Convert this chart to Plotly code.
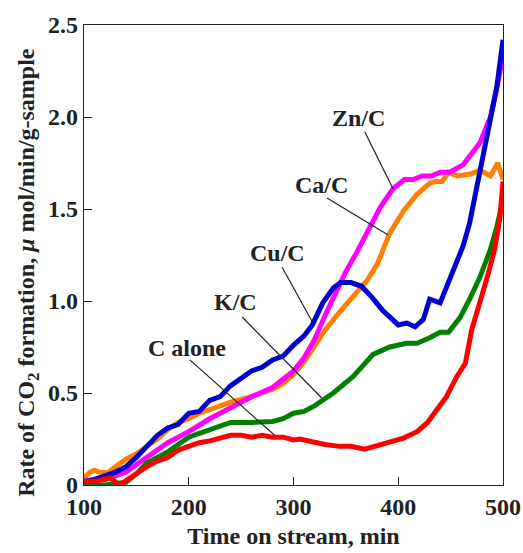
import plotly.graph_objects as go

# Cu/C (blue)
cu_t = [100,110,120,130,140,150,160,170,180,190,200,210,220,230,240,250,260,270,280,290,300,310,318,328,338,345,355,365,375,385,395,400,408,416,424,430,440,448,455,462,468,475,485,494,500]
cu_v = [0.02,0.03,0.05,0.07,0.10,0.15,0.21,0.27,0.31,0.33,0.39,0.40,0.46,0.48,0.54,0.58,0.62,0.64,0.68,0.70,0.76,0.81,0.87,0.99,1.07,1.10,1.10,1.08,1.02,0.95,0.90,0.87,0.88,0.86,0.90,1.01,0.99,1.10,1.21,1.30,1.42,1.62,1.88,2.16,2.42]

# Zn/C (magenta)
zn_t = [100,120,140,160,180,200,220,240,260,280,300,310,320,330,340,350,360,370,383,395,406,414,423,432,440,449,462,478,488,495,500]
zn_v = [0.016,0.03,0.07,0.15,0.23,0.29,0.36,0.42,0.48,0.53,0.62,0.69,0.79,0.92,1.04,1.16,1.26,1.37,1.51,1.61,1.66,1.66,1.68,1.68,1.70,1.70,1.74,1.86,2.00,2.18,2.34]

# Ca/C (orange)
ca_t = [100,106,110,115,122,130,140,150,160,170,180,190,200,210,220,240,260,280,290,300,310,320,330,344,360,370,380,392,405,418,430,436,442,448,456,469,478,488,495,500]
ca_v = [0.04,0.07,0.08,0.07,0.065,0.10,0.14,0.17,0.21,0.25,0.30,0.34,0.36,0.39,0.41,0.45,0.48,0.52,0.55,0.60,0.67,0.75,0.84,0.94,1.04,1.11,1.20,1.37,1.49,1.58,1.64,1.65,1.65,1.70,1.68,1.69,1.71,1.68,1.75,1.66]

# K/C (green)
k_t = [100,120,140,150,160,170,180,190,200,210,220,230,240,260,280,290,300,310,320,338,357,376,392,408,418,430,440,448,459,469,478,488,494,500]
k_v = [0.0,0.0,0.015,0.06,0.12,0.15,0.18,0.22,0.26,0.28,0.30,0.32,0.34,0.34,0.345,0.36,0.39,0.40,0.43,0.50,0.59,0.71,0.75,0.77,0.77,0.80,0.83,0.83,0.91,1.02,1.13,1.28,1.40,1.55]

# C alone (red)
c_t = [100,110,118,125,134,147,160,170,180,190,200,210,220,240,250,260,270,280,290,300,306,316,330,344,355,368,383,395,405,418,428,437,446,456,464,470,478,486,492,497,500]
c_v = [0.02,0.02,0.03,0.04,0.0,0.05,0.10,0.13,0.15,0.19,0.21,0.23,0.24,0.27,0.27,0.26,0.27,0.26,0.26,0.245,0.25,0.235,0.22,0.21,0.21,0.195,0.22,0.235,0.255,0.29,0.34,0.41,0.48,0.59,0.66,0.84,0.99,1.15,1.28,1.45,1.65]

x_ticks = [100, 200, 300, 400, 500]
y_ticks = [0, 0.5, 1.0, 1.5, 2.0, 2.5]
y_tick_text = ["0", "0.5", "1.0", "1.5", "2.0", "2.5"]

# labels: text, text position, leader start, leader end
labels = ["Zn/C", "Ca/C", "Cu/C", "K/C", "C alone"]
label_pos = [(362.5, 1.995), (327, 1.63), (285, 1.26), (245, 0.995), (198, 0.745)]
leader_from = [(368, 1.92), (332, 1.56), (289, 1.185), (251, 0.913), (201, 0.68)]
leader_to = [(395, 1.61), (390, 1.36), (318, 0.886), (327, 0.473), (282, 0.27)]

FONT = "Liberation Serif, Times New Roman, serif"
INK = "#222222"

fig = go.Figure()
series = [
    (ca_t, ca_v, "#ff8000"),
    (zn_t, zn_v, "#ff00ff"),
    (cu_t, cu_v, "#0000d0"),
    (k_t, k_v, "#008000"),
    (c_t, c_v, "#ff0000"),
]
for t, v, col in series:
    fig.add_trace(go.Scatter(x=t, y=v, mode="lines",
                             line=dict(color=col, width=5), showlegend=False))

for txt, (tx, ty), (x0, y0), (x1, y1) in zip(labels, label_pos, leader_from, leader_to):
    fig.add_annotation(x=tx, y=ty, text=txt, showarrow=False,
                       font=dict(family=FONT, size=24, color=INK, weight="bold"))
    fig.add_shape(type="line", x0=x0, y0=y0, x1=x1, y1=y1,
                  line=dict(color=INK, width=1.2))

# y-axis title as rotated annotation
fig.add_annotation(xref="paper", yref="paper", x=-0.134, y=0.463, xanchor="center", yanchor="middle",
                   text="Rate of CO<sub>2</sub> formation, <i>μ</i> mol/min/g-sample",
                   textangle=-90, showarrow=False,
                   font=dict(family=FONT, size=24, color=INK, weight="bold"))

axis_common = dict(showgrid=False, zeroline=False, showline=True, linecolor=INK,
                   linewidth=1.2, mirror=True, ticks="inside", ticklen=8,
                   tickcolor=INK, tickwidth=1.2, automargin=False,
                   tickfont=dict(family=FONT, size=24, color=INK, weight="bold"))

fig.update_xaxes(range=[100, 500], tickvals=x_ticks,
                 title=dict(text="Time on stream, min", standoff=8,
                            font=dict(family=FONT, size=24, color=INK, weight="bold")),
                 **axis_common)
fig.update_yaxes(range=[0, 2.5], tickvals=y_ticks, ticktext=y_tick_text,
                 **axis_common)

fig.update_layout(width=523, height=553, margin=dict(l=84, r=20, t=25, b=68),
                  plot_bgcolor="white", paper_bgcolor="white")

fig.write_html("out.html")
